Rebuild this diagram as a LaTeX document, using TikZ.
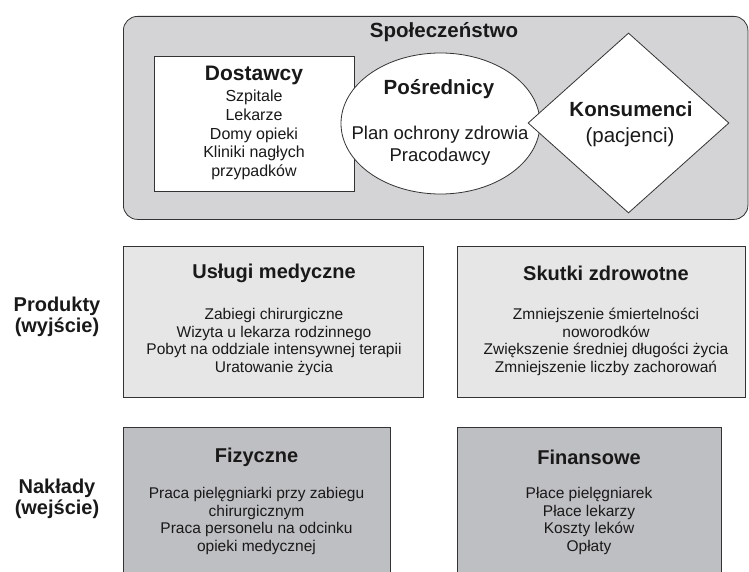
\documentclass[tikz,border=0pt]{standalone}
\usepackage{fontspec}
\setmainfont{Liberation Sans}
\usetikzlibrary{shapes.geometric}
\definecolor{edgec}{HTML}{333333}
\definecolor{socfill}{HTML}{D4D4D6}
\definecolor{outfill}{HTML}{E6E6E7}
\definecolor{infill}{HTML}{BEBFC2}
\newcommand\fsz[2]{\fontsize{#1bp}{#2bp}\selectfont}
\begin{document}
\begin{tikzpicture}[x=1bp,y=-1bp,
  shp/.style={draw=edgec,line width=0.8bp,inner sep=0pt},
  boxA/.style={shp,anchor=north west},
  ttl/.style={font=\fsz{20}{24}\bfseries,text=black!90},
  body/.style={font=\fsz{15.5}{17.5},align=center,text=black!90},
  lbl/.style={font=\fsz{20}{21}\bfseries,align=center,text=black!90}]
\useasboundingbox (0,0) rectangle (749,572);
\clip (0,0) rectangle (749,572);
% Society
\node[boxA,fill=socfill,rounded corners=14bp,minimum width=624.5bp,minimum height=203bp] (soc) at (123,16) {};
\node[font=\fsz{20.5}{24}\bfseries,text=black!90] (socT) at (444,32) {Społeczeństwo};
\node[boxA,fill=white,minimum width=200bp,minimum height=135bp] (dost) at (154,56) {};
\node[ellipse,shp,fill=white,minimum width=199bp,minimum height=141bp] (posr) at (440.5,123.5) {};
\node[diamond,shp,fill=white,minimum width=201bp,minimum height=180bp] (kons) at (628.5,123) {};
\node[font=\fsz{21}{24}\bfseries,text=black!90] (dostT) at (254,75) {Dostawcy};
\node[font=\fsz{16}{18.75},align=center,text=black!90] (dostB) at (254,135) {Szpitale\\Lekarze\\Domy opieki\\Kliniki nagłych\\przypadków};
\node[font=\fsz{20.5}{24}\bfseries,text=black!90] (posrT) at (439,89) {Pośrednicy};
\node[font=\fsz{18.5}{22},align=center,text=black!90] (posrB) at (440,146) {Plan ochrony zdrowia\\Pracodawcy};
\node[font=\fsz{20.5}{24}\bfseries,text=black!90] (konsT) at (631,109) {Konsumenci};
\node[font=\fsz{20.5}{24},text=black!90] (konsB) at (630,137) {(pacjenci)};
% Outputs
\node[lbl] (prod) at (57,317) {Produkty\\(wyjście)};
\node[boxA,fill=outfill,minimum width=300bp,minimum height=151bp] (usl) at (123,246) {};
\node[boxA,fill=outfill,minimum width=288bp,minimum height=151bp] (skut) at (457,246) {};
\node[ttl] (uslT) at (274,273) {Usługi medyczne};
\node[body] (uslB) at (274,342) {Zabiegi chirurgiczne\\Wizyta u lekarza rodzinnego\\Pobyt na oddziale intensywnej terapii\\Uratowanie życia};
\node[ttl] (skutT) at (606,273) {Skutki zdrowotne};
\node[body] (skutB) at (606,342) {Zmniejszenie śmiertelności\\noworodków\\Zwiększenie średniej długości życia\\Zmniejszenie liczby zachorowań};
% Inputs
\node[lbl] (nakl) at (57,499) {Nakłady\\(wejście)};
\node[boxA,fill=infill,minimum width=267bp,minimum height=160bp] (fiz) at (123,427) {};
\node[boxA,fill=infill,minimum width=264bp,minimum height=160bp] (fin) at (457,427) {};
\node[ttl] (fizT) at (256.5,457) {Fizyczne};
\node[body] (fizB) at (256.5,521) {Praca pielęgniarki przy zabiegu\\chirurgicznym\\Praca personelu na odcinku\\opieki medycznej};
\node[ttl] (finT) at (589,457) {Finansowe};
\node[body] (finB) at (589,521) {Płace pielęgniarek\\Płace lekarzy\\Koszty leków\\Opłaty};
\end{tikzpicture}
\end{document}
